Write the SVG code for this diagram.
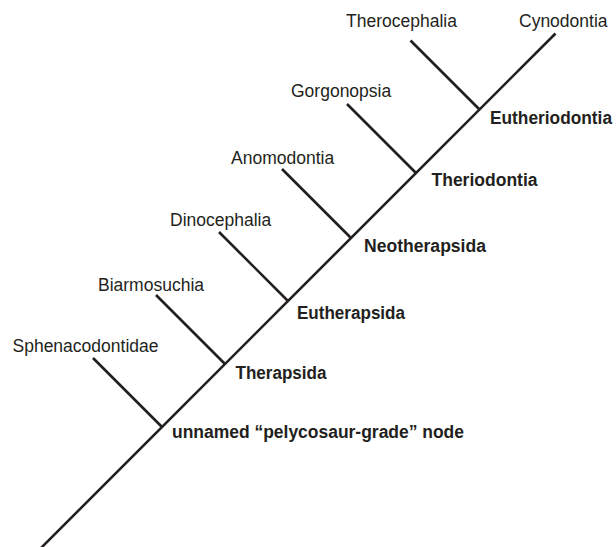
<svg xmlns="http://www.w3.org/2000/svg" width="616" height="547" viewBox="0 0 616 547">
<style>
.ln{stroke:#231f20;stroke-width:2.6;fill:none}
.tx{font-family:"Liberation Sans",Arial,sans-serif;font-size:17.5px;fill:#231f20}
.bd{font-family:"Liberation Sans",Arial,sans-serif;font-size:17.5px;font-weight:bold;fill:#231f20}
</style>
<rect width="616" height="547" fill="#fff"/>
<g id="connectors">
<line class="ln" x1="40" y1="549" x2="555.5" y2="33.5"/>
<line class="ln" x1="93" y1="358" x2="162" y2="427"/>
<line class="ln" x1="156" y1="295" x2="225" y2="364"/>
<line class="ln" x1="219" y1="232" x2="288" y2="301"/>
<line class="ln" x1="282" y1="169" x2="351" y2="238"/>
<line class="ln" x1="347" y1="104" x2="416" y2="173"/>
<line class="ln" x1="410.5" y1="40.5" x2="479.5" y2="109.5"/>
</g>
<g id="leaf-therocephalia"><text class="tx" x="346" y="27">Therocephalia</text></g>
<g id="leaf-cynodontia"><text class="tx" x="519" y="27">Cynodontia</text></g>
<g id="leaf-gorgonopsia"><text class="tx" x="291" y="97">Gorgonopsia</text></g>
<g id="leaf-anomodontia"><text class="tx" x="231" y="164">Anomodontia</text></g>
<g id="leaf-dinocephalia"><text class="tx" x="170" y="226">Dinocephalia</text></g>
<g id="leaf-biarmosuchia"><text class="tx" x="98" y="291">Biarmosuchia</text></g>
<g id="leaf-sphenacodontidae"><text class="tx" x="12.5" y="352">Sphenacodontidae</text></g>
<g id="node-eutheriodontia"><text class="bd" x="490" y="124" textLength="122" lengthAdjust="spacingAndGlyphs">Eutheriodontia</text></g>
<g id="node-theriodontia"><text class="bd" x="431.5" y="186" textLength="106" lengthAdjust="spacingAndGlyphs">Theriodontia</text></g>
<g id="node-neotherapsida"><text class="bd" x="364" y="252" textLength="122" lengthAdjust="spacingAndGlyphs">Neotherapsida</text></g>
<g id="node-eutherapsida"><text class="bd" x="297" y="319" textLength="108" lengthAdjust="spacingAndGlyphs">Eutherapsida</text></g>
<g id="node-therapsida"><text class="bd" x="235.5" y="379" textLength="91" lengthAdjust="spacingAndGlyphs">Therapsida</text></g>
<g id="node-unnamed"><text class="bd" x="172" y="438" textLength="292" lengthAdjust="spacingAndGlyphs">unnamed “pelycosaur-grade” node</text></g>
</svg>
